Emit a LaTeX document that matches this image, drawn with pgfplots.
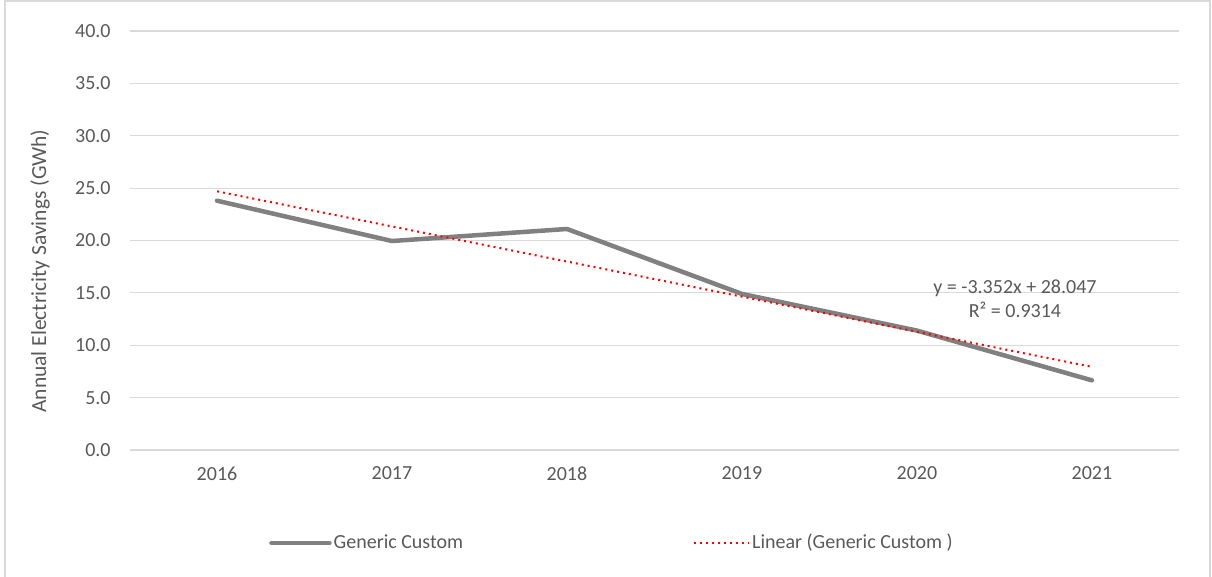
\documentclass[border=0pt]{standalone}
\usepackage{pgfplots}
\pgfplotsset{compat=1.18}
\usepackage{fontspec}
\setmainfont{Carlito}
\definecolor{txt}{HTML}{595959}
\definecolor{gridc}{HTML}{D9D9D9}
\definecolor{series}{HTML}{808080}
\begin{document}
\fontsize{20}{24}\selectfont
\begin{tikzpicture}[x=1pt,y=1pt]
\useasboundingbox (0,0) rectangle (1212,576);
\draw[gridc, line width=1.2pt] (5,-5) -- (5,575) -- (1210,575) -- (1210,-5);
\begin{axis}[
  at={(129.5pt,126pt)}, anchor=south west,
  scale only axis, width=1050pt, height=419pt,
  xmin=-0.5, xmax=5.5, ymin=0, ymax=40,
  xtick={0,1,2,3,4,5},
  xticklabels={2016,2017,2018,2019,2020,2021},
  ytick={0,5,10,15,20,25,30,35,40},
  /pgf/number format/assume math mode=true,
  /pgf/number format/fixed, /pgf/number format/fixed zerofill, /pgf/number format/precision=1,
  yticklabel style={text=txt, font=\fontsize{20}{24}\selectfont, xshift=-12pt},
  xticklabel style={text=txt, font=\fontsize{20}{24}\selectfont, yshift=-10pt},
  major tick length=0pt,
  axis line style={draw=none},
  xmajorgrids=false, ymajorgrids=true, grid style={draw=gridc, line width=1.2pt},
  ylabel={Annual Electricity Savings (GWh)},
  ylabel style={at={(axis description cs:-0.0852,0.427)}, anchor=center, text=txt, font=\fontsize{21.5}{26}\selectfont},
  legend columns=2,
  legend style={draw=none, fill=none, at={(axis description cs:0.4595,-0.222)}, anchor=center,
    font=\fontsize{20}{24}\selectfont, text=txt, /tikz/every even column/.append style={column sep=228pt},
    nodes={inner xsep=2pt}},
  legend cell align=left,
  clip=false,
]
\addplot[series, line width=4.5pt, line cap=round, line join=round,
  legend image code/.code={\draw[series, line width=4.5pt, line cap=round] (0pt,0pt) -- (58pt,0pt);}]
  coordinates {(0,23.8) (1,19.95) (2,21.1) (3,14.9) (4,11.4) (5,6.65)};
\addlegendentry{Generic Custom}
\addplot[red, line width=2pt, dash pattern=on 2pt off 4pt,
  legend image code/.code={\draw[red, line width=2pt, dash pattern=on 2pt off 4pt] (0pt,0pt) -- (55pt,0pt);}]
  coordinates {(0,24.695) (1,21.343) (2,17.991) (3,14.639) (4,11.287) (5,7.935)};
\addlegendentry{Linear (Generic Custom )}
\node[text=txt, align=center, font=\fontsize{20}{24}\selectfont] at (axis cs:4.56,14.4) {y = -3.352x + 28.047\\R² = 0.9314};
\end{axis}
\end{tikzpicture}
\end{document}
